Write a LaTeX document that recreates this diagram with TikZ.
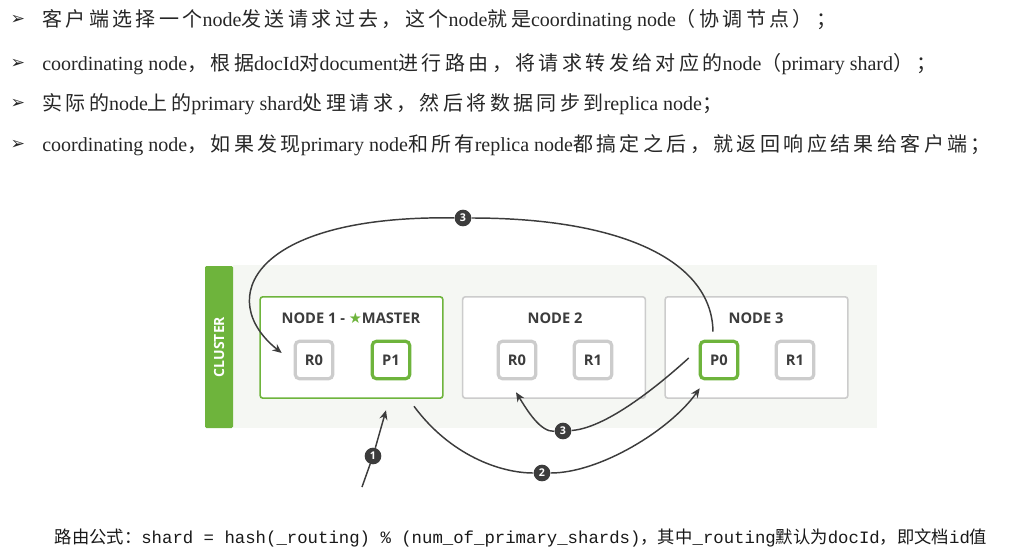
\documentclass[tikz,border=0pt]{standalone}
\usepackage{fontspec}
\setmainfont{Liberation Serif}
\newfontfamily\cjk{Noto Sans CJK SC}
\newfontfamily\cjkwide[LetterSpace=17]{Noto Sans CJK SC}
\newfontfamily\esfont{Open Sans}
\newfontfamily\symfont{DejaVu Sans}
\newfontfamily\codefont{Liberation Mono}
\usetikzlibrary{arrows.meta,calc}
\definecolor{esgreen}{RGB}{110,180,60}
\definecolor{boxgrey}{RGB}{204,204,204}
\definecolor{inkgrey}{RGB}{60,60,60}
\definecolor{bggrey}{RGB}{245,247,243}
\newcommand{\zh}[1]{{\cjk #1}}
\newcommand{\zhw}[1]{{\cjkwide\fontsize{15}{18}\selectfont #1}}

\begin{document}
\begin{tikzpicture}[x=0.75pt,y=-0.75pt,>={Stealth[length=7pt,width=6pt]},
    line/.style={font=\fontsize{15}{18}\selectfont, text=black!85, anchor=west, inner sep=0pt},
    bullet/.style={font=\symfont\bfseries\fontsize{13}{15}\selectfont, text=black!85, inner sep=0pt},
    nodebox/.style={draw=boxgrey, line width=1.2pt, fill=white, rounded corners=2pt,
        minimum width=137pt, minimum height=76pt},
    shard/.style={draw=boxgrey, line width=2.4pt, fill=white, rounded corners=3pt,
        minimum size=28pt, inner sep=0pt, font=\esfont\bfseries\fontsize{11}{12}\selectfont, text=inkgrey},
    primary/.style={shard, draw=esgreen},
    title/.style={font=\esfont\bfseries\fontsize{11}{12}\selectfont, text=inkgrey},
    numdot/.style={circle, fill=inkgrey, text=white, inner sep=0pt, minimum size=12.5pt,
        font=\esfont\bfseries\fontsize{8}{9}\selectfont},
    flow/.style={draw=inkgrey, line width=1.1pt}]
    \useasboundingbox (0,0) rectangle (1009,554);

    % the four steps
    \foreach \y in {20,64,104,145}
        \node[bullet] at (18,\y) {➢};
    \node[line] (l1) at (42,20) {\zhw{客户端选择一个}node\zhw{发送请求过去，这个}node\zhw{就是}coordinating node\zhw{（协调节点）；}};
    \node[line] (l2) at (42,64) {coordinating node\zhw{，根据}docId\zhw{对}document\zhw{进行路由，将请求转发给对应的}node\zhw{（}primary shard\zhw{）；}};
    \node[line] (l3) at (42,104) {\zhw{实际的}node\zhw{上的}primary shard\zhw{处理请求，然后将数据同步到}replica node\zhw{；}};
    \node[line] (l4) at (42,145) {coordinating node\zhw{，如果发现}primary node\zhw{和所有}replica node\zhw{都搞定之后，就返回响应结果给客户端；}};

    % the cluster
    \fill[bggrey] (233,265) rectangle (877,428);
    \fill[esgreen, rounded corners=1pt] (205,266) rectangle (233,428);
    \node[rotate=90, text=white, font=\esfont\bfseries\fontsize{10.5}{12}\selectfont] (cluster) at (219,347) {CLUSTER};

    % the nodes
    \node[nodebox, draw=esgreen] (n1) at (351.5,347.5) {};
    \node[nodebox] (n2) at (554,347.5) {};
    \node[nodebox] (n3) at (756.5,347.5) {};
    \node[title] at (351,318) {NODE 1 - {\symfont\fontsize{11}{12}\selectfont\color{esgreen}★}MASTER};
    \node[title] at (555,318) {NODE 2};
    \node[title] at (756,318) {NODE 3};

    % the shards
    \node[shard] (r0a) at (314,360) {R0};
    \node[primary] (p1) at (391,360) {P1};
    \node[shard] (r0b) at (517,360) {R0};
    \node[shard] (r1b) at (593,360) {R1};
    \node[primary] (p0) at (719,360) {P0};
    \node[shard] (r1c) at (795,360) {R1};

    % step numbers
    \node[numdot] (s1) at (373,456) {1};
    \node[numdot] (s2) at (542,473) {2};
    \node[numdot] (s3a) at (463,218) {3};
    \node[numdot] (s3b) at (563,431) {3};

    % request from the client
    \coordinate (client) at (362,487);
    \draw[flow,->] (client) -- (s1) -- ($(p1.south)+(-5,30)$);

    % forward to the primary
    \draw[flow,->] ($(p1.south)+(23,26)$) .. controls (450,455) and (500,473) .. (s2)
        .. controls (600,473) and (670,430) .. ($(p0.south west)+(1,8)$);

    % sync to the replica
    \draw[flow,->] ($(p0.west)+(-10,-2)$) .. controls (670,375) and (610,428) .. (s3b)
        .. controls (540,432) and (527,410) .. ($(r0b.south)+(-1,12)$);

    % response back
    \draw[flow,->] ($(p0.north)+(-6,-8)$) .. controls (712,260) and (620,218) .. (s3a)
        .. controls (250,215) and (215,300) .. ($(r0a.west)+(-12,-7)$);

    % routing formula
    \node[font=\fontsize{13}{15}\selectfont, text=black!90] (formula) at (521,538)
        {\zh{路由公式：}\codefont shard = hash(\_routing) \% (num\_of\_primary\_shards)\zh{，其中}\_routing\zh{默认为}docId\zh{，即文档}id\zh{值}};
\end{tikzpicture}
\end{document}
